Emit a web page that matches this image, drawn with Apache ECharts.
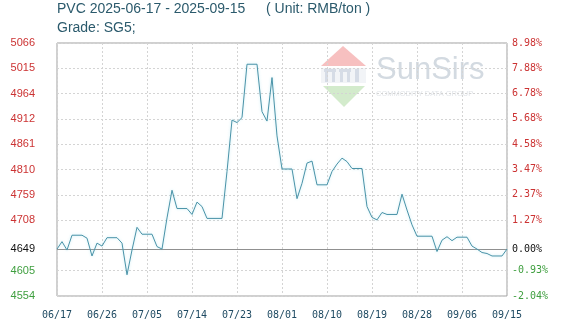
<!DOCTYPE html>
<html>
<head>
<meta charset="utf-8">
<script src="https://cdn.jsdelivr.net/npm/echarts@6/dist/echarts.min.js"></script>
<style>html,body{margin:0;padding:0;background:#fff}#c{width:574px;height:334px}</style>
</head>
<body>
<div id="c"></div>
<script>
var startDate = '2025-06-17';
var dayCount = 91;
var prices = [
4649,4664,4647,4677,4677,4677,4671,4635,4661,4655,
4672,4672,4672,4661,4597,4647,4693,4679,4679,4679,
4654,4649,4712,4768,4731,4731,4731,4719,4744,4735,
4711,4711,4711,4711,4806,4910,4905,4915,5023,5023,
5023,4927,4908,4996,4878,4811,4811,4811,4751,4782,
4823,4827,4779,4779,4779,4806,4821,4833,4826,4812,
4812,4812,4735,4713,4708,4723,4719,4719,4719,4760,
4728,4698,4675,4675,4675,4675,4644,4667,4674,4666,
4673,4673,4673,4655,4649,4642,4640,4635,4635,4635,
4649];
var basePrice = 4649;
var leftTickValues = [4554, 4605.2, 4649, 4707.6, 4758.8, 4810, 4861.2, 4912.4, 4963.6, 5014.8, 5066];
var leftTickLabels = ['4554','4605','4649','4708','4759','4810','4861','4912','4964','5015','5066'];
var rightTickLabels = ['-2.04%','-0.93%','0.00%','1.27%','2.37%','3.47%','4.58%','5.68%','6.78%','7.88%','8.98%'];

var categories = [];
(function(){
  var d = new Date(startDate + 'T00:00:00Z');
  for (var i = 0; i < dayCount; i++) {
    var t = new Date(d.getTime() + i * 86400000);
    var m = ('0' + (t.getUTCMonth() + 1)).slice(-2);
    var dd = ('0' + t.getUTCDate()).slice(-2);
    categories.push(m + '/' + dd);
  }
})();

function tickIndex(v) {
  for (var i = 0; i < leftTickValues.length; i++) {
    if (Math.abs(leftTickValues[i] - v) < 0.01) return i;
  }
  return -1;
}
function styleKey(i) {
  var v = leftTickValues[i];
  if (Math.abs(v - basePrice) < 0.01) return 'z';
  return v > basePrice ? 'r' : 'g';
}

var chart = echarts.init(document.getElementById('c'), null, {renderer: 'canvas'});
var titleColor = '#2b5a6c';
chart.setOption({
  animation: false,
  backgroundColor: '#fff',
  grid: {left: 57, right: 67, top: 43, bottom: 38, show: true, borderColor: '#a0a0a0', borderWidth: 1},
  graphic: [
    {type: 'text', left: 57, top: 2, z: 10, style: {text: 'PVC 2025-06-17 - 2025-09-15', fill: titleColor, font: '14px "Liberation Sans", Arial, sans-serif'}},
    {type: 'text', left: 266, top: 2, z: 10, style: {text: '( Unit: RMB/ton )', fill: titleColor, font: '14px "Liberation Sans", Arial, sans-serif'}},
    {type: 'text', left: 57, top: 21, z: 10, style: {text: 'Grade: SG5;', fill: titleColor, font: '14px "Liberation Sans", Arial, sans-serif'}},
    {type: 'polygon', z: 0, silent: true, shape: {points: [[343,46],[321,66],[366,66]]}, style: {fill: '#f7c0c0'}},
    {type: 'rect', z: 0, silent: true, shape: {x: 321, y: 68, width: 45, height: 15}, style: {fill: '#f2f4f7'}},
    {type: 'rect', z: 0, silent: true, shape: {x: 324, y: 69, width: 12, height: 3}, style: {fill: '#d6dce6'}},
    {type: 'rect', z: 0, silent: true, shape: {x: 325, y: 72, width: 3, height: 10}, style: {fill: '#d6dce6'}},
    {type: 'rect', z: 0, silent: true, shape: {x: 332, y: 72, width: 3, height: 10}, style: {fill: '#d6dce6'}},
    {type: 'rect', z: 0, silent: true, shape: {x: 339, y: 69, width: 12, height: 3}, style: {fill: '#d6dce6'}},
    {type: 'rect', z: 0, silent: true, shape: {x: 340, y: 72, width: 3, height: 10}, style: {fill: '#d6dce6'}},
    {type: 'rect', z: 0, silent: true, shape: {x: 347, y: 72, width: 3, height: 10}, style: {fill: '#d6dce6'}},
    {type: 'rect', z: 0, silent: true, shape: {x: 355, y: 69, width: 4, height: 13}, style: {fill: '#d6dce6'}},
    {type: 'polygon', z: 0, silent: true, shape: {points: [[323,86],[365,86],[344,107]]}, style: {fill: '#d3ebcc'}},
    {type: 'text', left: 376, top: 55, z: 0, silent: true, style: {text: 'SunSirs', fill: '#d3dae1', font: '31px "Liberation Sans", Arial, sans-serif'}},
    {type: 'text', left: 376, top: 90, z: 0, silent: true, style: {text: 'COMMODITY DATA GROUP', fill: '#e1e4e8', font: '7.5px "Liberation Sans", Arial, sans-serif'}}
  ],
  xAxis: {
    type: 'category',
    data: categories,
    boundaryGap: false,
    axisLine: {show: false},
    axisTick: {show: false},
    axisLabel: {interval: 8, margin: 14, color: '#1e4a62', fontFamily: '"DejaVu Sans Mono", monospace', fontSize: 10, showMaxLabel: true},
    splitLine: {show: true, interval: 8, lineStyle: {color: '#d4d4d4', type: [2, 2], width: 1}}
  },
  yAxis: [
    {
      type: 'value', min: leftTickValues[0], max: leftTickValues[leftTickValues.length - 1], position: 'left',
      axisLine: {show: false},
      axisTick: {show: false, customValues: leftTickValues},
      splitLine: {show: true, lineStyle: {color: '#d4d4d4', type: [2, 2], width: 1}},
      axisLabel: {
        customValues: leftTickValues, margin: 22,
        formatter: function (v) { var i = tickIndex(v); return i < 0 ? '' : '{' + styleKey(i) + '|' + leftTickLabels[i] + '}'; },
        rich: {
          r: {color: '#cc3333', fontFamily: '"Liberation Sans", Arial, sans-serif', fontSize: 11},
          g: {color: '#3f9f3f', fontFamily: '"Liberation Sans", Arial, sans-serif', fontSize: 11},
          z: {color: '#111111', fontFamily: '"Liberation Sans", Arial, sans-serif', fontSize: 11}
        }
      }
    },
    {
      type: 'value', min: leftTickValues[0], max: leftTickValues[leftTickValues.length - 1], position: 'right',
      axisLine: {show: false},
      axisTick: {show: false, customValues: leftTickValues},
      splitLine: {show: false},
      axisLabel: {
        customValues: leftTickValues, margin: 5,
        formatter: function (v) { var i = tickIndex(v); return i < 0 ? '' : '{' + styleKey(i) + '|' + rightTickLabels[i] + '}'; },
        rich: {
          r: {color: '#cc3333', fontFamily: '"DejaVu Sans Mono", monospace', fontSize: 10},
          g: {color: '#3f9f3f', fontFamily: '"DejaVu Sans Mono", monospace', fontSize: 10},
          z: {color: '#111111', fontFamily: '"DejaVu Sans Mono", monospace', fontSize: 10}
        }
      }
    }
  ],
  series: [{
    type: 'line',
    data: prices,
    yAxisIndex: 0,
    z: 5,
    symbol: 'none',
    smooth: false,
    lineStyle: {color: '#4a93a8', width: 1, shadowColor: 'rgba(150,220,235,0.6)', shadowBlur: 3},
    markLine: {
      silent: true, symbol: 'none', label: {show: false},
      lineStyle: {color: '#909090', type: 'solid', width: 1},
      data: [{yAxis: basePrice}]
    }
  }]
});
</script>
</body>
</html>
